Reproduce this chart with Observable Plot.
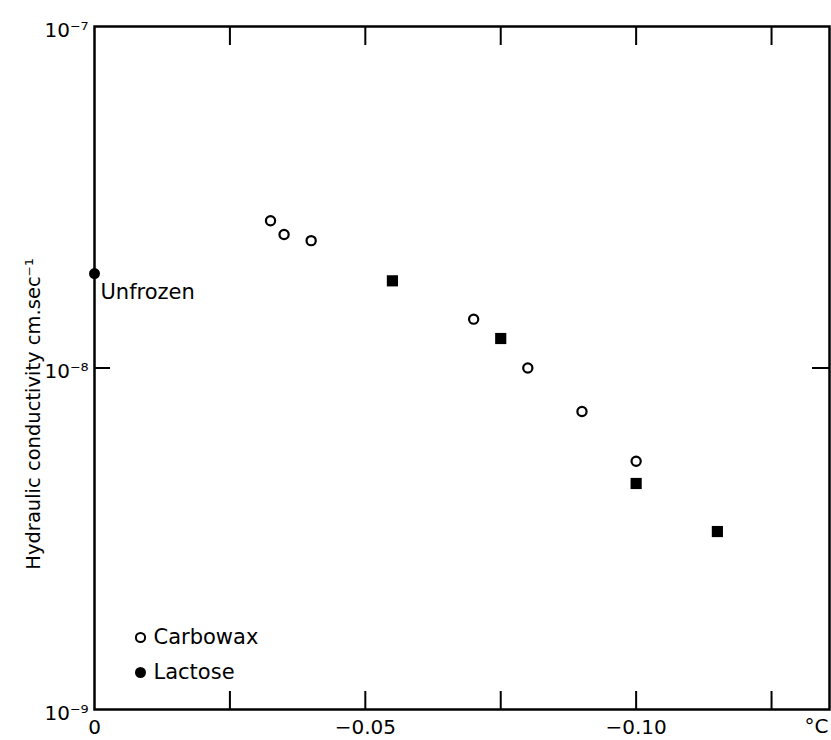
<!DOCTYPE html>
<html><head><meta charset="utf-8">
<script src="https://cdn.jsdelivr.net/npm/d3@7"></script>
<script src="https://cdn.jsdelivr.net/npm/@observablehq/plot@0.6"></script>
<style>body{margin:0;background:#fff;}</style>
</head><body><div id="chart"></div>
<script>
// Data
const carbowaxTemp = [-0.0325, -0.035, -0.040, -0.070, -0.080, -0.090, -0.100];
const carbowaxK    = [2.70e-8, 2.46e-8, 2.36e-8, 1.39e-8, 1.0e-8, 7.46e-9, 5.33e-9];
const lactoseTemp  = [-0.055, -0.075, -0.100, -0.115];
const lactoseK     = [1.80e-8, 1.22e-8, 4.59e-9, 3.32e-9];
const unfrozenTemp = [0];
const unfrozenK    = [1.89e-8];
const seriesNames  = ["Carbowax", "Lactose"];
const xTickValues  = [-0.025, -0.05, -0.075, -0.10, -0.125];
const xLabelValues = [0, -0.05, -0.10];
const xLabelText   = ["0", "−0.05", "−0.10"];
const yTickValues  = [1e-9, 1e-8, 1e-7];
const yLabelText   = ["10⁻⁹", "10⁻⁸", "10⁻⁷"];
const yTitle = "Hydraulic conductivity cm.sec⁻¹";
const unitLabel = "°C";

const carbowax = carbowaxTemp.map((t, i) => ({t, k: carbowaxK[i]}));
const lactose = lactoseTemp.map((t, i) => ({t, k: lactoseK[i]}));
const unfrozen = unfrozenTemp.map((t, i) => ({t, k: unfrozenK[i]}));

const chart = Plot.plot({
  width: 831,
  height: 740,
  marginLeft: 94,
  marginTop: 26,
  marginRight: 2,
  marginBottom: 31,
  style: {fontFamily: "DejaVu Sans", background: "white", color: "black"},
  x: {domain: [0, -0.1357], axis: null},
  y: {type: "log", domain: [1e-9, 1e-7], axis: null},
  marks: [
    // inward ticks
    Plot.axisX(xTickValues, {anchor: "bottom", tickSize: -18, strokeWidth: 2, fill: "none", label: null}),
    Plot.axisX(xTickValues, {anchor: "top", tickSize: -18, strokeWidth: 2, fill: "none", label: null}),
    Plot.axisY([1e-8], {anchor: "left", tickSize: -16, strokeWidth: 2, fill: "none", label: null}),
    Plot.axisY([1e-8], {anchor: "right", tickSize: -18, strokeWidth: 2, fill: "none", label: null}),
    // tick labels
    Plot.axisX(xLabelValues, {anchor: "bottom", tickSize: 0, tickPadding: 10, fontSize: 20, label: null,
      tickFormat: d => xLabelText[xLabelValues.indexOf(d)]}),
    Plot.axisY(yTickValues, {anchor: "left", tickSize: 0, tickPadding: 6, fontSize: 20, dy: 4, label: null,
      tickFormat: d => yLabelText[yTickValues.indexOf(d)]}),
    Plot.text([unitLabel], {frameAnchor: "bottom-right", textAnchor: "start", lineAnchor: "middle", dx: -25, dy: 17, fontSize: 20}),
    Plot.text([yTitle], {frameAnchor: "left", rotate: -90, textAnchor: "middle", lineAnchor: "middle", dx: -61, dy: 46, fontSize: 19.5}),
    Plot.frame({stroke: "black", strokeWidth: 2.5}),
    // data
    Plot.dot(carbowax, {x: "t", y: "k", r: 4.6, stroke: "black", strokeWidth: 2.2, fill: "white"}),
    Plot.dot(lactose, {x: "t", y: "k", symbol: "square", r: 6.3, fill: "black", stroke: "none"}),
    Plot.dot(unfrozen, {x: "t", y: "k", r: 5.5, fill: "black"}),
    Plot.text(unfrozen, {x: "t", y: "k", text: () => "Unfrozen", textAnchor: "start", dx: 6, dy: 19, fontSize: 21}),
    // legend
    Plot.dot([seriesNames[0]], {frameAnchor: "bottom-left", dx: 46, dy: -72, r: 4.6, stroke: "black", strokeWidth: 2, fill: "white"}),
    Plot.text([seriesNames[0]], {frameAnchor: "bottom-left", dx: 59, dy: -72, textAnchor: "start", lineAnchor: "middle", fontSize: 21}),
    Plot.dot([seriesNames[1]], {frameAnchor: "bottom-left", dx: 46, dy: -37, r: 5.5, fill: "black"}),
    Plot.text([seriesNames[1]], {frameAnchor: "bottom-left", dx: 59, dy: -37, textAnchor: "start", lineAnchor: "middle", fontSize: 21})
  ]
});
document.getElementById("chart").append(chart);
</script>
</body></html>
